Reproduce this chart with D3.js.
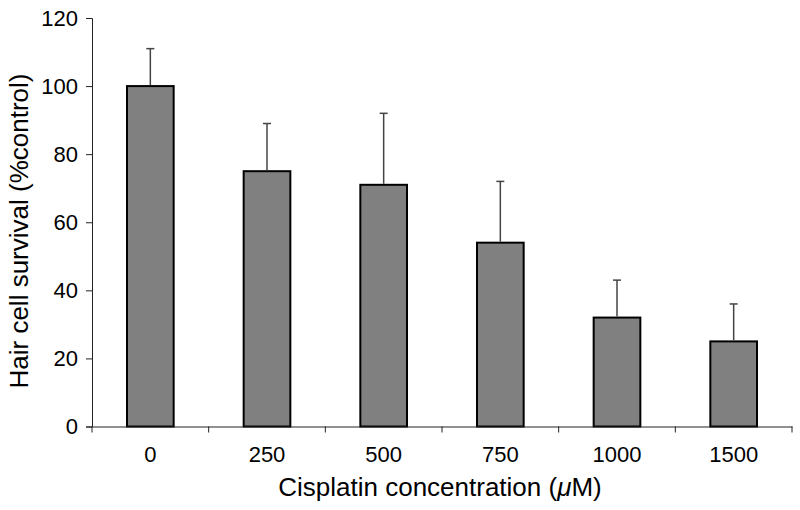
<!DOCTYPE html>
<html>
<head>
<meta charset="utf-8">
<script src="https://cdn.jsdelivr.net/npm/d3@7"></script>
<style>
  body { margin: 0; background: #fff; }
  text { font-family: "Liberation Sans", Arial, Helvetica, sans-serif; fill: #000; }
</style>
</head>
<body>
<div id="chart"></div>
<script>
// chart data
const concentrations = ["0", "250", "500", "750", "1000", "1500"];
const survival = [100, 75, 71, 54, 32, 25];
const errors = [11, 14, 21, 18, 11, 11];
const yTicks = [0, 20, 40, 60, 80, 100, 120];

const width = 800;
const height = 510;
const margin = { top: 18, right: 8, bottom: 83.5, left: 92 };

const svg = d3
  .select("#chart")
  .append("svg")
  .attr("width", width)
  .attr("height", height);

const xScale = d3
  .scaleBand()
  .domain(concentrations)
  .range([margin.left, width - margin.right])
  .paddingInner(0.6)
  .paddingOuter(0.3);

const yScale = d3
  .scaleLinear()
  .domain([0, 120])
  .range([height - margin.bottom, margin.top]);

// bars
svg
  .append("g")
  .selectAll("rect")
  .data(concentrations)
  .join("rect")
  .attr("x", (d) => xScale(d))
  .attr("y", (d, i) => yScale(survival[i]))
  .attr("width", xScale.bandwidth())
  .attr("height", (d, i) => yScale(0) - yScale(survival[i]))
  .attr("fill", "#808080")
  .attr("stroke", "#000")
  .attr("stroke-width", 2);

// error bars (upper only)
const errG = svg.append("g").attr("stroke", "#444").attr("stroke-width", 1.5);
concentrations.forEach((c, i) => {
  const cx = xScale(c) + xScale.bandwidth() / 2;
  const top = yScale(survival[i] + errors[i]);
  errG
    .append("line")
    .attr("x1", cx)
    .attr("x2", cx)
    .attr("y1", yScale(survival[i]) - 1)
    .attr("y2", top);
  errG
    .append("line")
    .attr("x1", cx - 4)
    .attr("x2", cx + 4)
    .attr("y1", top)
    .attr("y2", top);
});

// y axis
svg
  .append("g")
  .attr("transform", `translate(${margin.left},0)`)
  .call(d3.axisLeft(yScale).tickValues(yTicks).tickSize(6).tickPadding(8))
  .attr("font-size", 22)
  .attr("font-family", null);

// x axis, ticks between categories
const step = xScale.step();
const xAxis = svg
  .append("g")
  .attr("transform", `translate(0,${yScale(0)})`)
  .call(d3.axisBottom(xScale).tickSize(0).tickPadding(20))
  .attr("font-size", 22)
  .attr("font-family", null);
xAxis
  .selectAll(".sep")
  .data(d3.range(concentrations.length + 1))
  .join("line")
  .attr("class", "sep")
  .attr("x1", (i) => margin.left + i * step)
  .attr("x2", (i) => margin.left + i * step)
  .attr("y1", 0)
  .attr("y2", 6)
  .attr("stroke", "#222");

svg.selectAll(".domain, .tick line").attr("stroke", "#222");

// axis titles
const xTitle = svg
  .append("text")
  .attr("x", 440)
  .attr("y", 496)
  .attr("text-anchor", "middle")
  .style("font-size", "26px");
xTitle.append("tspan").text("Cisplatin concentration (");
xTitle.append("tspan").style("font-style", "italic").text("μ");
xTitle.append("tspan").text("M)");

svg
  .append("text")
  .attr("transform", "translate(28,231) rotate(-90)")
  .attr("text-anchor", "middle")
  .style("font-size", "26px")
  .text("Hair cell survival (%control)");
</script>
</body>
</html>
